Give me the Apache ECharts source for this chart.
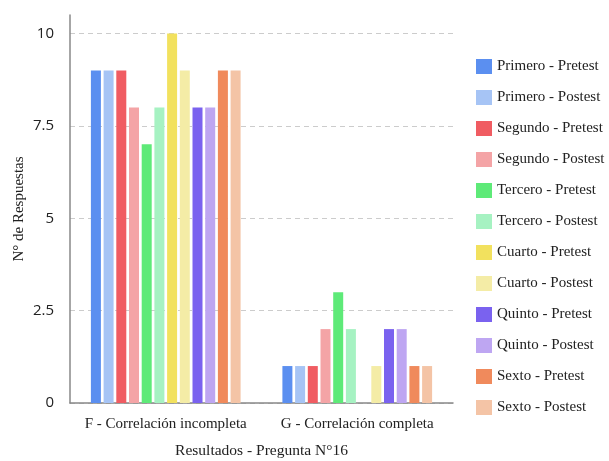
<!DOCTYPE html>
<html><head><meta charset="utf-8">
<script src="https://cdn.jsdelivr.net/npm/echarts@6/dist/echarts.min.js"></script>
<style>html,body{margin:0;padding:0;background:#fff}#c{width:609px;height:461px}</style>
</head><body><div id="c"></div>
<script>
const categories = ['F - Correlación incompleta', 'G - Correlación completa'];
const seriesNames = ['Primero - Pretest','Primero - Postest','Segundo - Pretest','Segundo - Postest','Tercero - Pretest','Tercero - Postest','Cuarto - Pretest','Cuarto - Postest','Quinto - Pretest','Quinto - Postest','Sexto - Pretest','Sexto - Postest'];
const primeroPre = [9, 1];
const primeroPost = [9, 1];
const segundoPre = [9, 1];
const segundoPost = [8, 2];
const terceroPre = [7, 3];
const terceroPost = [8, 2];
const cuartoPre = [10, 0];
const cuartoPost = [9, 1];
const quintoPre = [8, 2];
const quintoPost = [8, 2];
const sextoPre = [9, 1];
const sextoPost = [9, 1];
const yTicks = [0, 2.5, 5, 7.5, 10];
const colors = ['#5b8ff0','#a6c4f5','#f05c62','#f4a4a6','#5eea78','#a6f2c2','#f2e15e','#f4eca6','#7a62ef','#bea6f2','#f08a5c','#f4c4a6'];
const allData = [primeroPre, primeroPost, segundoPre, segundoPost, terceroPre, terceroPost, cuartoPre, cuartoPost, quintoPre, quintoPost, sextoPre, sextoPost];

const chart = echarts.init(document.getElementById('c'), null, {renderer: 'canvas'});
const serif = '"Liberation Serif", serif';
const sans = 'Open Sans';
chart.setOption({
  animation: false,
  color: colors,
  textStyle: {fontFamily: serif},
  grid: {left: 70, right: 156, top: 15, bottom: 58, containLabel: false, outerBoundsMode: 'none'},
  legend: {
    orient: 'vertical', left: 471, top: 54,
    itemWidth: 16, itemHeight: 15, itemGap: 16,
    icon: 'rect',
    textStyle: {fontFamily: serif, fontSize: 15, color: '#222', lineHeight: 15},
    data: seriesNames
  },
  xAxis: {
    type: 'category', data: categories,
    name: 'Resultados - Pregunta N°16', nameLocation: 'middle', nameGap: 40,
    nameMoveOverlap: false,
    nameTextStyle: {fontFamily: serif, fontSize: 15.5, color: '#222'},
    axisLine: {lineStyle: {color: '#888', width: 1.5}},
    axisTick: {show: false},
    axisLabel: {interval: 0, fontFamily: serif, fontSize: 15, color: '#222', margin: 14},
  },
  yAxis: {
    type: 'value', min: 0, max: 10.5, interval: 2.5,
    name: 'N° de Respuestas', nameLocation: 'middle', nameGap: 43,
    nameMoveOverlap: false,
    nameTextStyle: {fontFamily: serif, fontSize: 15, color: '#222'},
    axisLine: {show: true, lineStyle: {color: '#888', width: 1.5}},
    axisTick: {show: false},
    axisLabel: {fontFamily: sans, fontSize: 15, color: '#222', margin: 16, showMaxLabel: false},
    splitLine: {show: true, lineStyle: {type: [5, 4], color: ['#ccc','#ccc','#ccc','#ccc','#ccc','rgba(0,0,0,0)'], width: 1}}
  },
  series: seriesNames.map((n, i) => ({
    name: n, type: 'bar', data: allData[i],
    barWidth: 10, barGap: '27%'
  }))
});
</script></body></html>
